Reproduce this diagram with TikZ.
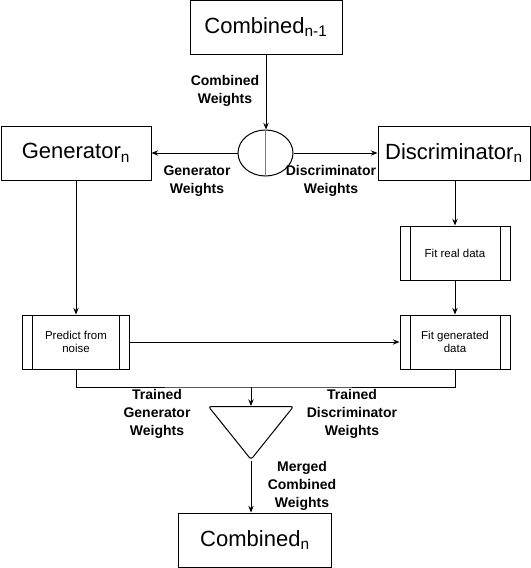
\documentclass[tikz,border=0pt]{standalone}
\usepackage{fontspec}
\setmainfont{Liberation Sans}
\usetikzlibrary{shapes.geometric,arrows.meta}

\begin{document}
\begin{tikzpicture}[x=0.75pt,y=-0.75pt,line width=0.75pt,
  >={Stealth[length=5pt,width=4pt]},
  big/.style={draw,font=\fontsize{16.5}{20}\selectfont,inner sep=0pt,minimum height=40.5pt},
  proc/.style={draw,align=center,font=\fontsize{8.6}{10}\selectfont,minimum height=40.5pt,inner sep=0pt,
    path picture={\draw ([xshift=7.5pt]path picture bounding box.north west) -- ([xshift=7.5pt]path picture bounding box.south west)
      ([xshift=-7.5pt]path picture bounding box.north east) -- ([xshift=-7.5pt]path picture bounding box.south east);}},
  lbl/.style={align=center,font=\fontsize{10.5}{13.2}\selectfont\bfseries}]
\useasboundingbox (0,0) rectangle (531,568);

% boxes
\node[big,minimum width=114pt] (combprev) at (266,27) {Combined\textsubscript{n-1}};
\node[draw,ellipse,minimum width=41.25pt,minimum height=34.5pt,inner sep=0pt] (split) at (265.5,153) {};
\node[big,minimum width=112.5pt] (gen) at (76,153) {Generator\textsubscript{n}};
\node[big,minimum width=114pt] (disc) at (454,153) {Discriminator\textsubscript{n}};
\node[proc,minimum width=82.5pt] (fitreal) at (455,253) {Fit real data};
\node[proc,minimum width=82.5pt] (fitgen) at (455,342) {Fit generated\\data};
\node[proc,minimum width=80.25pt] (pred) at (76,342) {Predict from\\noise};
\node[draw,isosceles triangle,isosceles triangle stretches,shape border rotate=270,
  minimum width=63.75pt,minimum height=39.75pt,inner sep=0pt,rounded corners=2pt,anchor=lower side] (merge) at (251,406) {};
\node[big,minimum width=114.75pt] (combn) at (255,540) {Combined\textsubscript{n}};
\coordinate (join) at (251,387);

% connectors
\draw[->] (combprev.south) -- (combprev.south |- split.north);
\draw[gray] (split.north) -- (split.south);
\draw[->] (split.west) -- (gen.east);
\draw[->] (split.east) -- (disc.west);
\draw[->] (gen.south) -- (pred.north);
\draw[->] (fitreal.north |- disc.south) -- (fitreal.north);
\draw[->] (fitreal) -- (fitgen);
\draw[->] (pred) -- (fitgen);
\draw (pred.south) |- (join) -| (fitgen.south);
\draw[->] (join) -- (merge.lower side);
\draw[->] (merge.apex) -- (merge.apex |- combn.north);

% labels
\node[lbl] (lcomb) at (225,91) {Combined\\Weights};
\node[lbl] (lgen) at (197,181) {Generator\\Weights};
\node[lbl] (ldisc) at (331,181) {Discriminator\\Weights};
\node[lbl] (ltgen) at (157,414) {Trained\\Generator\\Weights};
\node[lbl] (ltdisc) at (352,414) {Trained\\Discriminator\\Weights};
\node[lbl] (lmerge) at (302,486) {Merged\\Combined\\Weights};
\end{tikzpicture}
\end{document}
